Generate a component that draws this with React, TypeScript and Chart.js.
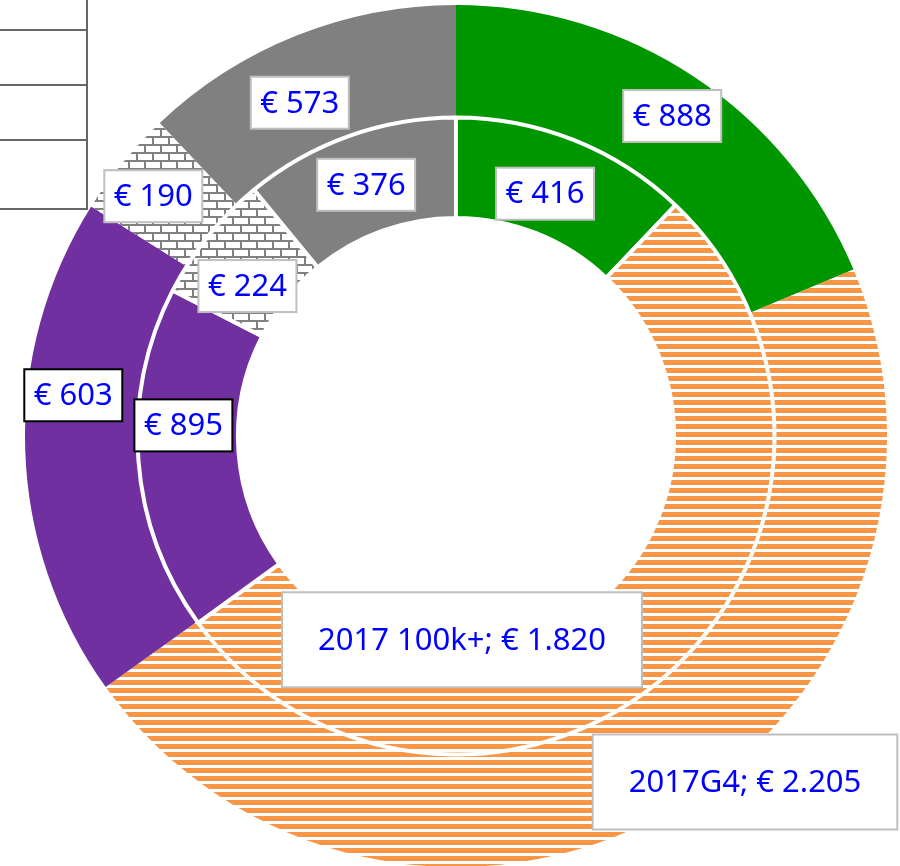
import React, { useEffect, useRef } from "react";
import { Chart, registerables } from "chart.js";

Chart.register(...registerables);

// ---- data ----
const seriesNames = ["2017G4", "2017 100k+"];
const categories = ["Groen", "Oranje", "Paars", "Baksteen", "Grijs"];
const outerValues = [888, 2205, 895, 190, 573];
const innerValues = [416, 1820, 603, 224, 376];
const outerLabels = ["€ 888", "2017G4; € 2.205", "€ 603", "€ 190", "€ 573"];
const innerLabels = ["€ 416", "2017 100k+; € 1.820", "€ 895", "€ 224", "€ 376"];

// ---- label placement (angle offset from arc middle in degrees, radius as fraction of outer radius) ----
const outerPlace = [
  { da: 0.4, rf: 0.896 },
  { da: -10.7, rf: 1.046 },
  { da: 7.8, rf: 0.893 },
  { da: -1, rf: 0.896 },
  { da: -3.4, rf: 0.854 },
];
const innerPlace = [
  { da: -1.6, rf: 0.599 },
  { da: 39.5, rf: 0.473 },
  { da: 6.6, rf: 0.633 },
  { da: -3.2, rf: 0.596 },
  { da: 0, rf: 0.619 },
];

const GREEN = "#009600";
const ORANGE = "#F79646";
const PURPLE = "#7030A0";
const GREY = "#808080";

function stripePattern(): CanvasPattern | string {
  const c = document.createElement("canvas");
  c.width = 8;
  c.height = 8;
  const g = c.getContext("2d");
  if (!g) return ORANGE;
  g.fillStyle = "#ffffff";
  g.fillRect(0, 0, 8, 8);
  g.fillStyle = ORANGE;
  g.fillRect(0, 0, 8, 5);
  return g.createPattern(c, "repeat") || ORANGE;
}

function brickPattern(): CanvasPattern | string {
  const c = document.createElement("canvas");
  c.width = 16;
  c.height = 16;
  const g = c.getContext("2d");
  if (!g) return GREY;
  g.fillStyle = "#ffffff";
  g.fillRect(0, 0, 16, 16);
  g.fillStyle = GREY;
  g.fillRect(0, 0, 16, 2);
  g.fillRect(0, 8, 16, 2);
  g.fillRect(0, 2, 2, 6);
  g.fillRect(8, 10, 2, 6);
  return g.createPattern(c, "repeat") || GREY;
}

const labelPlugin = {
  id: "boxLabels",
  afterDatasetsDraw(chart: any) {
    const ctx: CanvasRenderingContext2D = chart.ctx;
    const outerMeta = chart.getDatasetMeta(0);
    const R = outerMeta.data[0].outerRadius;
    const sets = [
      { meta: outerMeta, texts: outerLabels, place: outerPlace },
      { meta: chart.getDatasetMeta(1), texts: innerLabels, place: innerPlace },
    ];
    const fs = 31;
    ctx.save();
    ctx.font = `${fs}px "Noto Sans"`;
    ctx.textAlign = "center";
    ctx.textBaseline = "middle";
    for (const s of sets) {
      s.meta.data.forEach((arc: any, i: number) => {
        const mid = (arc.startAngle + arc.endAngle) / 2 + (s.place[i].da * Math.PI) / 180;
        const r = s.place[i].rf * R;
        const cx = arc.x + r * Math.cos(mid);
        const cy = arc.y + r * Math.sin(mid);
        const text = s.texts[i];
        const tw = ctx.measureText(text).width;
        const big = i === 1;
        const padX = big ? 36 : 9.5;
        const padY = big ? 32 : 10.5;
        const w = tw + padX * 2;
        const h = fs + padY * 2;
        ctx.fillStyle = "#ffffff";
        ctx.fillRect(cx - w / 2, cy - h / 2, w, h);
        ctx.lineWidth = 2;
        ctx.strokeStyle = i === 2 ? "#000000" : "#BFBFBF";
        ctx.strokeRect(cx - w / 2, cy - h / 2, w, h);
        ctx.fillStyle = "#0000FF";
        ctx.fillText(text, cx, cy + 1);
      });
    }
    ctx.restore();
  },
};

const cornerPlugin = {
  id: "cornerTable",
  afterDraw(chart: any) {
    const ctx: CanvasRenderingContext2D = chart.ctx;
    ctx.save();
    ctx.strokeStyle = "#666666";
    ctx.lineWidth = 2;
    ctx.beginPath();
    ctx.moveTo(87, 0);
    ctx.lineTo(87, 210);
    [30, 85, 140, 209].forEach((y) => {
      ctx.moveTo(0, y);
      ctx.lineTo(87, y);
    });
    ctx.stroke();
    ctx.restore();
  },
};

export default function App() {
  const ref = useRef<HTMLCanvasElement | null>(null);
  useEffect(() => {
    if (!ref.current) return;
    const stripes = stripePattern();
    const bricks = brickPattern();
    const colors = [GREEN, stripes, PURPLE, bricks, GREY];
    const chart = new Chart(ref.current, {
      type: "doughnut",
      data: {
        labels: categories,
        datasets: [
          {
            label: seriesNames[0],
            data: outerValues,
            backgroundColor: colors as any,
            borderWidth: 0,
            weight: 1.12,
            order: 1,
          },
          {
            label: seriesNames[1],
            data: innerValues,
            backgroundColor: colors as any,
            borderColor: "#ffffff",
            borderWidth: 4,
            weight: 1,
            order: 0,
          },
        ],
      },
      options: {
        responsive: false,
        animation: false,
        events: [],
        radius: 431,
        cutout: "50.6%",
        layout: { padding: { left: 12, top: 6, right: 0, bottom: 0 } },
        plugins: {
          legend: { display: false },
          tooltip: { enabled: false },
        },
      } as any,
      plugins: [labelPlugin, cornerPlugin],
    });
    return () => chart.destroy();
  }, []);
  return (
    <div style={{ position: "absolute", left: 0, top: 0, width: 900, height: 866, background: "#fff" }}>
      <canvas ref={ref} width={900} height={866} style={{ display: "block" }} />
    </div>
  );
}
